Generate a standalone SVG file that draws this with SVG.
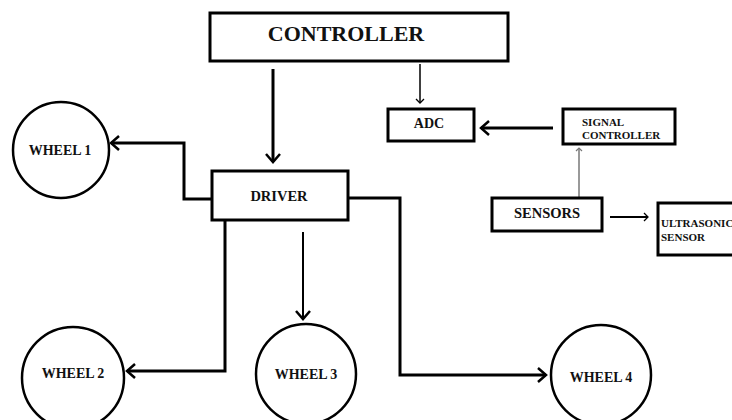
<svg xmlns="http://www.w3.org/2000/svg" width="732" height="420" viewBox="0 0 732 420">
<style>
.box{fill:#fff;stroke:#000;stroke-width:3}
.wheel{fill:#fff;stroke:#000;stroke-width:2.5}
.t{font-family:"Liberation Serif","Times New Roman",serif;font-weight:bold;fill:#111}
.c{text-anchor:middle}
.ln{fill:none;stroke:#000;stroke-width:3}
.thin{fill:none;stroke:#000;stroke-width:1.5}
</style>
<defs>
<marker id="ah" markerUnits="userSpaceOnUse" markerWidth="20" markerHeight="20" viewBox="-10 -10 20 20" refX="0" refY="0" orient="auto">
<path d="M-8,-7 L0,0 L-8,7" fill="none" stroke="#000" stroke-width="2.5"/>
</marker>
<marker id="ahs" markerUnits="userSpaceOnUse" markerWidth="12" markerHeight="12" viewBox="-6 -6 12 12" refX="0" refY="0" orient="auto">
<path d="M-4,-4 L0,0 L-4,4" fill="none" stroke="#000" stroke-width="1.3"/>
</marker>
<marker id="ahg" markerUnits="userSpaceOnUse" markerWidth="12" markerHeight="12" viewBox="-6 -6 12 12" refX="0" refY="0" orient="auto">
<path d="M-3,-3 L0,0 L-3,3" fill="none" stroke="#777" stroke-width="1.2"/>
</marker>
</defs>
<g id="connectors">
<path class="ln" d="M273,69 V162" marker-end="url(#ah)"/>
<path class="thin" d="M420,64 V103" marker-end="url(#ahs)"/>
<path class="ln" d="M553,128 H481" marker-end="url(#ah)"/>
<path d="M579,197 V148" fill="none" stroke="#777" stroke-width="1.5" marker-end="url(#ahg)"/>
<path d="M610,217 H648" fill="none" stroke="#000" stroke-width="2" marker-end="url(#ahs)"/>
<path class="ln" d="M212,199 H184 V143 H111" marker-end="url(#ah)"/>
<path class="ln" d="M225,220 V371 H127" marker-end="url(#ah)"/>
<path class="thin" d="M303,232 V319" style="stroke-width:2" marker-end="url(#ah)"/>
<path class="ln" d="M348,198 H400 V375 H546" marker-end="url(#ah)"/>
</g>
<g id="controller">
<rect class="box" x="210" y="13" width="298" height="48"/>
<text class="t c" x="346" y="41" font-size="22">CONTROLLER</text>
</g>
<g id="adc">
<rect class="box" x="388" y="109" width="86" height="32"/>
<text class="t c" x="429" y="128" font-size="14">ADC</text>
</g>
<g id="signal-controller">
<rect class="box" x="563" y="109" width="112" height="35"/>
<text class="t" x="582" y="126" font-size="11">SIGNAL</text>
<text class="t" x="582" y="139" font-size="11">CONTROLLER</text>
</g>
<g id="sensors">
<rect class="box" x="492" y="198" width="110" height="33"/>
<text class="t c" x="547" y="218" font-size="14.5">SENSORS</text>
</g>
<g id="ultrasonic">
<rect class="box" x="658" y="203" width="90" height="52"/>
<text class="t" x="661" y="227" font-size="11">ULTRASONIC</text>
<text class="t" x="661" y="241" font-size="11">SENSOR</text>
</g>
<g id="driver">
<rect class="box" x="212" y="171" width="136" height="49"/>
<text class="t c" x="279" y="201" font-size="14.5">DRIVER</text>
</g>
<g id="wheel1">
<circle class="wheel" cx="61" cy="150" r="48"/>
<text class="t c" x="60" y="155" font-size="14">WHEEL 1</text>
</g>
<g id="wheel2">
<circle class="wheel" cx="73" cy="378" r="51"/>
<text class="t c" x="73" y="378" font-size="14">WHEEL 2</text>
</g>
<g id="wheel3">
<circle class="wheel" cx="306" cy="374" r="50"/>
<text class="t c" x="306" y="379" font-size="14">WHEEL 3</text>
</g>
<g id="wheel4">
<circle class="wheel" cx="601" cy="375" r="50"/>
<text class="t c" x="601" y="382" font-size="14">WHEEL 4</text>
</g>
</svg>
